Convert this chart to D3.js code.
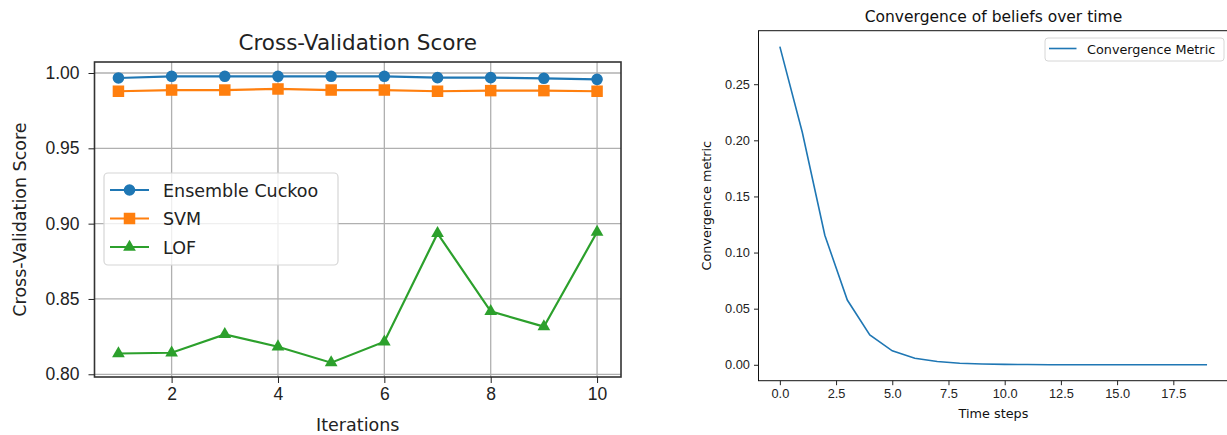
<!DOCTYPE html>
<html>
<head>
<meta charset="utf-8">
<script src="https://cdn.jsdelivr.net/npm/d3@7"></script>
<style>
  body { margin: 0; background: #fff; }
  svg { display: block; font-family: "DejaVu Sans", sans-serif; }
  .axis path, .axis line { stroke: #222; }
  .axis text { fill: #222; }
</style>
</head>
<body>
<svg id="chart" width="1227" height="435"></svg>
<script>
// ---- left chart data ----
let iterations = [1, 2, 3, 4, 5, 6, 7, 8, 9, 10];
let ensembleScores = [0.9967, 0.9978, 0.9978, 0.9978, 0.9978, 0.9978, 0.9969, 0.9969, 0.9965, 0.9958];
let svmScores = [0.9879, 0.9887, 0.9887, 0.9894, 0.9887, 0.9887, 0.9879, 0.9883, 0.9883, 0.9879];
let lofScores = [0.8138, 0.8143, 0.8265, 0.8183, 0.8077, 0.8216, 0.8935, 0.8418, 0.8316, 0.8944];
let leftXTicks = [2, 4, 6, 8, 10];
let leftYTicks = [0.80, 0.85, 0.90, 0.95, 1.00];

// ---- right chart data ----
let timeSteps = d3.range(0, 20);
let convergence = [0.2835, 0.207, 0.1154, 0.0577, 0.0266, 0.0124, 0.0058, 0.0029, 0.0014, 0.0007,
                   0.0004, 0.0002, 0.0001, 0.00006, 0.00003, 0.00002, 0.00001, 0.000005, 0.000003, 0.000001];
let rightXTicks = [0, 2.5, 5, 7.5, 10, 12.5, 15, 17.5];
let rightYTicks = [0, 0.05, 0.10, 0.15, 0.20, 0.25];

let svg = d3.select("#chart");

// matplotlib style 5% padding
function padded(lo, hi) {
    let m = (hi - lo) * 0.05;
    return [lo - m, hi + m];
}

/* ================= left: cross validation ================= */
{
    let box = {left: 94.5, right: 621, top: 62, bottom: 377};
    let g = svg.append("g");
    let fs = 17.5;

    let x = d3.scaleLinear().domain(padded(1, 10)).range([box.left, box.right]);
    let allScores = ensembleScores.concat(svmScores, lofScores);
    let y = d3.scaleLinear().domain(padded(d3.min(allScores), d3.max(allScores))).range([box.bottom, box.top]);

    // grid
    g.append("g").selectAll("line.gx").data(leftXTicks).enter().append("line")
        .attr("x1", d => x(d)).attr("x2", d => x(d))
        .attr("y1", box.top).attr("y2", box.bottom)
        .attr("stroke", "#b0b0b0").attr("stroke-width", 1.3);
    g.append("g").selectAll("line.gy").data(leftYTicks).enter().append("line")
        .attr("y1", d => y(d)).attr("y2", d => y(d))
        .attr("x1", box.left).attr("x2", box.right)
        .attr("stroke", "#b0b0b0").attr("stroke-width", 1.3);

    let series = [
        {name: "Ensemble Cuckoo", values: ensembleScores, color: "#1f77b4", marker: "circle"},
        {name: "SVM", values: svmScores, color: "#ff7f0e", marker: "square"},
        {name: "LOF", values: lofScores, color: "#2ca02c", marker: "triangle"}
    ];

    let symbolFor = {
        circle: d3.symbol().type(d3.symbolCircle).size(Math.PI * 5.8 * 5.8),
        square: d3.symbol().type(d3.symbolSquare).size(11.5 * 11.5),
        triangle: d3.symbol().type(d3.symbolTriangle).size(70)
    };

    let line = d3.line().x((d, i) => x(iterations[i])).y(d => y(d));

    series.forEach(s => {
        g.append("path")
            .datum(s.values)
            .attr("d", line)
            .attr("fill", "none")
            .attr("stroke", s.color)
            .attr("stroke-width", 2.2);
        g.append("g").selectAll("path")
            .data(s.values).enter().append("path")
            .attr("d", symbolFor[s.marker])
            .attr("transform", (d, i) => "translate(" + x(iterations[i]) + "," + y(d) + ")")
            .attr("fill", s.color);
    });

    // frame
    g.append("rect")
        .attr("x", box.left).attr("y", box.top)
        .attr("width", box.right - box.left).attr("height", box.bottom - box.top)
        .attr("fill", "none").attr("stroke", "#333").attr("stroke-width", 1.6);

    // axes
    g.append("g")
        .attr("class", "axis")
        .attr("transform", "translate(0," + box.bottom + ")")
        .call(d3.axisBottom(x).tickValues(leftXTicks).tickSize(6).tickPadding(5).tickFormat(d3.format("d")))
        .call(a => a.select(".domain").remove())
        .selectAll("text").style("font-size", fs + "px");
    g.append("g")
        .attr("class", "axis")
        .attr("transform", "translate(" + box.left + ",0)")
        .call(d3.axisLeft(y).tickValues(leftYTicks).tickSize(6).tickPadding(9).tickFormat(d3.format(".2f")))
        .call(a => a.select(".domain").remove())
        .selectAll("text").style("font-size", fs + "px");

    // labels
    g.append("text")
        .attr("x", (box.left + box.right) / 2).attr("y", 50)
        .attr("text-anchor", "middle").style("font-size", "21.5px").attr("fill", "#222")
        .text("Cross-Validation Score");
    g.append("text")
        .attr("x", (box.left + box.right) / 2).attr("y", 431)
        .attr("text-anchor", "middle").style("font-size", fs + "px").attr("fill", "#222")
        .text("Iterations");
    g.append("text")
        .attr("transform", "translate(26," + (box.top + box.bottom) / 2 + ") rotate(-90)")
        .attr("text-anchor", "middle").style("font-size", fs + "px").attr("fill", "#222")
        .text("Cross-Validation Score");

    // legend
    let lg = g.append("g");
    lg.append("rect")
        .attr("x", 104).attr("y", 173).attr("width", 234).attr("height", 92)
        .attr("rx", 4).attr("fill", "#fff").attr("fill-opacity", 0.8)
        .attr("stroke", "#d6d6d6").attr("stroke-width", 1.2);
    series.forEach((s, i) => {
        let ly = 190 + i * 28.5;
        lg.append("line")
            .attr("x1", 110).attr("x2", 149).attr("y1", ly).attr("y2", ly)
            .attr("stroke", s.color).attr("stroke-width", 2.2);
        lg.append("path")
            .attr("d", symbolFor[s.marker])
            .attr("transform", "translate(129.5," + ly + ")")
            .attr("fill", s.color);
        lg.append("text")
            .attr("x", 163).attr("y", ly + 6.5)
            .style("font-size", fs + "px").attr("fill", "#222")
            .text(s.name);
    });
}

/* ================= right: convergence ================= */
{
    let box = {left: 758.5, right: 1228.4, top: 30.7, bottom: 380.7};
    let g = svg.append("g");
    let fs = 12.8;

    let x = d3.scaleLinear().domain(padded(0, 19)).range([box.left, box.right]);
    let y = d3.scaleLinear().domain(padded(d3.min(convergence), d3.max(convergence))).range([box.bottom, box.top]);

    g.append("path")
        .datum(convergence)
        .attr("d", d3.line().x((d, i) => x(timeSteps[i])).y(d => y(d)))
        .attr("fill", "none")
        .attr("stroke", "#1f77b4")
        .attr("stroke-width", 1.6);

    g.append("rect")
        .attr("x", box.left).attr("y", box.top)
        .attr("width", box.right - box.left).attr("height", box.bottom - box.top)
        .attr("fill", "none").attr("stroke", "#111").attr("stroke-width", 1);

    g.append("g")
        .attr("class", "axis")
        .attr("transform", "translate(0," + box.bottom + ")")
        .call(d3.axisBottom(x).tickValues(rightXTicks).tickSize(4.5).tickPadding(4).tickFormat(d3.format(".1f")))
        .call(a => a.select(".domain").remove())
        .selectAll("text").style("font-size", fs + "px");
    g.append("g")
        .attr("class", "axis")
        .attr("transform", "translate(" + box.left + ",0)")
        .call(d3.axisLeft(y).tickValues(rightYTicks).tickSize(4.5).tickPadding(4).tickFormat(d3.format(".2f")))
        .call(a => a.select(".domain").remove())
        .selectAll("text").style("font-size", fs + "px");

    g.append("text")
        .attr("x", (box.left + box.right) / 2).attr("y", 22)
        .attr("text-anchor", "middle").style("font-size", "15.5px").attr("fill", "#111")
        .text("Convergence of beliefs over time");
    g.append("text")
        .attr("x", (box.left + box.right) / 2).attr("y", 418)
        .attr("text-anchor", "middle").style("font-size", fs + "px").attr("fill", "#111")
        .text("Time steps");
    g.append("text")
        .attr("transform", "translate(711," + (box.top + box.bottom) / 2 + ") rotate(-90)")
        .attr("text-anchor", "middle").style("font-size", fs + "px").attr("fill", "#111")
        .text("Convergence metric");

    let lg = g.append("g");
    lg.append("rect")
        .attr("x", 1045).attr("y", 38).attr("width", 179).attr("height", 23)
        .attr("rx", 3).attr("fill", "#fff").attr("fill-opacity", 0.8)
        .attr("stroke", "#d6d6d6").attr("stroke-width", 1);
    lg.append("line")
        .attr("x1", 1049).attr("x2", 1076.5).attr("y1", 48.5).attr("y2", 48.5)
        .attr("stroke", "#1f77b4").attr("stroke-width", 1.6);
    lg.append("text")
        .attr("x", 1087).attr("y", 53.5)
        .style("font-size", fs + "px").attr("fill", "#111")
        .text("Convergence Metric");
}
</script>
</body>
</html>
